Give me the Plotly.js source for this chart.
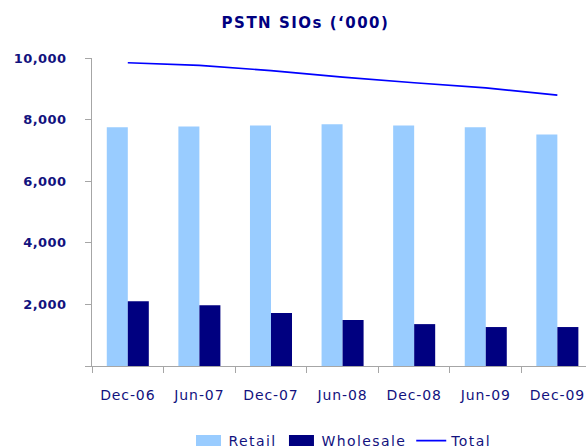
<!DOCTYPE html>
<html>
<head>
<meta charset="utf-8">
<script src="https://cdn.plot.ly/plotly-3.0.1.min.js"></script>
<style>
  html, body { margin: 0; padding: 0; background: #fff; }
  #chart { width: 586px; height: 448px; }
  .xtick text { letter-spacing: 0.9px; }
  .ytick text { letter-spacing: 0.4px; }
  .legendtext { letter-spacing: 1.4px; }
  .gtitle { letter-spacing: 1.5px; }
</style>
</head>
<body>
<div id="chart"></div>
<script>
const categories = ["Dec-06", "Jun-07", "Dec-07", "Jun-08", "Dec-08", "Jun-09", "Dec-09"];
const retail = [7750, 7780, 7810, 7845, 7810, 7750, 7520];
const wholesale = [2105, 1975, 1720, 1490, 1360, 1265, 1265];
const total = [9845, 9760, 9590, 9380, 9195, 9030, 8795];
const yTickVals = [0, 2000, 4000, 6000, 8000, 10000];
const yTickText = ["", "2,000", "4,000", "6,000", "8,000", "10,000"];

const navy = "#000080";
const textColor = "#12127e";
const axisGrey = "#a6a6a6";
const fontFam = "DejaVu Sans, Verdana, sans-serif";

const traces = [
  { type: "bar", name: "Retail", x: categories, y: retail,
    marker: { color: "#99ccff" } },
  { type: "bar", name: "Wholesale", x: categories, y: wholesale,
    marker: { color: navy } },
  { type: "scatter", mode: "lines", name: "Total", x: categories, y: total,
    line: { color: "#0000ff", width: 1.6 } }
];

const layout = {
  width: 586, height: 448,
  margin: { l: 92, r: 0, t: 58, b: 82 },
  paper_bgcolor: "#ffffff", plot_bgcolor: "#ffffff",
  barmode: "group", bargap: 0.413, bargroupgap: 0,
  title: {
    text: "PSTN SIOs (‘000)",
    font: { family: fontFam, size: 15, color: navy, weight: "bold" },
    x: 305.5 / 586, xref: "container", xanchor: "center",
    y: 1 - 23 / 448, yref: "container", yanchor: "middle"
  },
  xaxis: {
    type: "category", range: [-0.5, 6.4],
    showline: true, linecolor: axisGrey, linewidth: 1,
    ticks: "outside", ticklen: 6, tickcolor: axisGrey, tickson: "boundaries",
    showgrid: false, zeroline: false,
    tickfont: { family: fontFam, size: 14, color: textColor },
    ticklabelstandoff: 16, fixedrange: true
  },
  yaxis: {
    range: [0, 10000],
    tickvals: yTickVals, ticktext: yTickText,
    showline: true, linecolor: axisGrey, linewidth: 1,
    ticks: "outside", ticklen: 6, tickcolor: axisGrey,
    showgrid: false, zeroline: false,
    tickfont: { family: fontFam, size: 13, color: textColor, weight: "bold" },
    ticklabelstandoff: 16, fixedrange: true
  },
  showlegend: true,
  legend: {
    orientation: "h",
    x: 343 / 586, xref: "container", xanchor: "center",
    y: 1 - 441 / 448, yref: "container", yanchor: "middle",
    font: { family: fontFam, size: 14, color: textColor },
    itemwidth: 30, tracegroupgap: 0
  }
};

Plotly.newPlot("chart", traces, layout, { staticPlot: true, displayModeBar: false }).then(function (gd) {
  // widen the bar swatches in the legend to look like the reference
  gd.querySelectorAll(".legend .legendpoints path.legendbar, .legend .legendpoints path.legendundefined").forEach(function (p) {
    p.setAttribute("d", "M12.5,5.5H-12.5V-5.5H12.5Z");
  });
});
</script>
</body>
</html>
